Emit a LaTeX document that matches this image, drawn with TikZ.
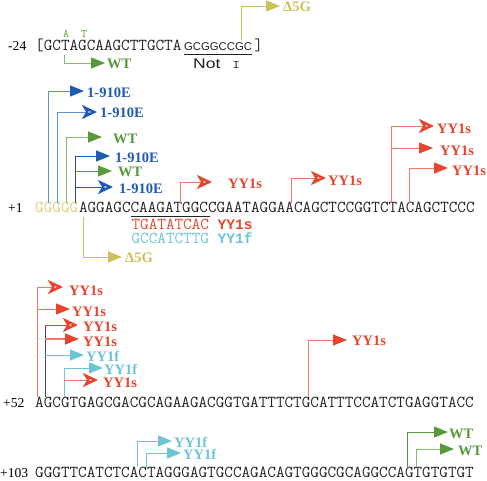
\documentclass[tikz,border=0pt]{standalone}
\usepackage{fontspec}
\usepackage{graphicx}
\usetikzlibrary{arrows.meta}
\newfontfamily\labfont{Liberation Serif}
\newfontfamily\sansf{Liberation Sans}
\newfontfamily\monob{Liberation Mono}
\definecolor{cRed}{HTML}{E8452F}
\definecolor{cRedL}{HTML}{F07A6A}
\definecolor{cBlue}{HTML}{1F5BB0}
\definecolor{cBlueL}{HTML}{5F90D2}
\definecolor{cGreen}{HTML}{58993A}
\definecolor{cGreenL}{HTML}{86BC6A}
\definecolor{cCyan}{HTML}{6CC5D2}
\definecolor{cOlive}{HTML}{C9C257}
\definecolor{cGold}{HTML}{D8D07E}
\definecolor{cDark}{HTML}{4A4A4A}
\definecolor{cSeq}{HTML}{222222}
\tikzset{
  seq/.style={anchor=base west, inner sep=0pt, font=\fontsize{16.7}{18}\selectfont\ttfamily, text=cSeq},
  rowlab/.style={anchor=base west, inner sep=0pt, font=\fontsize{13.6}{15}\selectfont\labfont, text=black},
  lab/.style={anchor=west, inner sep=0pt, font=\fontsize{14.5}{16}\selectfont\labfont\bfseries},
  ln/.style={line width=1pt, draw=#1},
  tipF/.style={-{Triangle[length=14pt,width=11pt,color=#1]}},
  tipO/.style={-{Stealth[color=#1,open,length=15pt,width=14pt,inset=4pt,line width=2.5pt]}},
}
\newcommand{\bmono}[1]{{\fontsize{14.6}{16}\selectfont\monob\bfseries #1}}
\begin{document}
\begin{tikzpicture}[x=1pt,y=-1pt]
\useasboundingbox (0,0) rectangle (487,480);

% ---------- row -24 ----------
\node[rowlab] (lm24) at (8,50) {-24};
\node[seq] (s24a) at (35,50) {[GCTAGCAAGCTTGCTA};
\node[anchor=base west, inner sep=0pt, font=\fontsize{11.3}{13}\selectfont\sansf, text=cSeq] (notseq) at (184,50) {GCGGCCGC};
\node[seq] (s24c) at (254.2,50) {]};
\draw[cSeq, line width=0.8pt] ([yshift=-4pt]notseq.base west) -- ([yshift=-4pt]notseq.base east);
\node[anchor=base west, inner sep=0pt, font=\fontsize{14}{16}\selectfont\sansf, text=cSeq] (notlab) at (193,68) {\scalebox{1.25}[1]{Not}};
\node[anchor=base west, inner sep=0pt, font=\fontsize{16}{17}\selectfont\ttfamily, text=cSeq] (notI) at (232,68) {\scalebox{1}[0.72]{I}};
\node[anchor=base, inner sep=0pt, font=\fontsize{11.5}{12}\selectfont\ttfamily, text=cGreen] (mA) at (66,37) {A};
\node[anchor=base, inner sep=0pt, font=\fontsize{11.5}{12}\selectfont\ttfamily, text=cGreen] (mT) at (84,37) {T};

\coordinate (b24) at (64,55); \coordinate (t24) at (105,63);
\draw[ln=cGreenL, tipF=cGreen] (b24) |- (t24);
\node[lab, text=cGreen] (l24) at (107,64) {WT};

\coordinate (b24d) at (241,40); \coordinate (t24d) at (280,6);
\draw[ln=cOlive, tipF=cOlive] (b24d) |- (t24d);
\node[lab, text=cOlive] (l24d) at (283,7) {Δ5G};

% ---------- row +1 ----------
\node[rowlab] (lp1) at (8,212) {+1};
\node[seq, text=cGold] (g5) at (35,212) {GGGGG};
\node[seq] (s1) at (78.84,212) {AGGAGCCAAGATGGCCGAATAGGAACAGCTCCGGTCTACAGCTCCC};
\draw[cSeq, line width=0.7pt] (131.4,216) -- (210.3,216);
\node[seq, text=cRed] (redsub) at (131.4,229.5) {TGATATCAC \bmono{YY1s}};
\node[seq, text=cCyan] (cyansub) at (131.4,243.5) {GCCATCTTG \bmono{YY1f}};

\coordinate (b1d) at (83,217); \coordinate (t1d) at (122,257);
\draw[ln=cOlive, tipF=cOlive] (b1d) |- (t1d);
\node[lab, text=cOlive] (l1d) at (125,258) {Δ5G};

% left group
\coordinate (bA1) at (48,203); \coordinate (tA1) at (84,91);
\draw[ln=cBlueL, tipF=cBlue] (bA1) |- (tA1);
\node[lab, text=cBlue] (lA1) at (87,93) {1-910E};
\coordinate (bA2) at (57,203); \coordinate (tA2) at (97,112);
\draw[ln=cBlueL, tipO=cBlue] (bA2) |- (tA2);
\node[lab, text=cBlue] (lA2) at (100,113) {1-910E};
\coordinate (bA3) at (66,203); \coordinate (tA3) at (102,137);
\draw[ln=cGreenL, tipF=cGreen] (bA3) |- (tA3);
\node[lab, text=cGreen] (lA3) at (113,139) {WT};
\coordinate (bB) at (75,203); \coordinate (jB1) at (75,156);
\coordinate (jB2) at (75,171); \coordinate (jB3) at (75,187);
\draw[ln=cDark] (bB) -- (jB1);
\coordinate (tB1) at (110,156); \coordinate (tB2) at (112,171); \coordinate (tB3) at (113,187);
\draw[ln=cBlue, tipF=cBlue] (jB1) -- (tB1);
\draw[ln=cGreen, tipF=cGreen] (jB2) -- (tB2);
\draw[ln=cBlue, tipO=cBlue] (jB3) -- (tB3);
\node[lab, text=cBlue] (lB1) at (115,158) {1-910E};
\node[lab, text=cGreen] (lB2) at (118,172) {WT};
\node[lab, text=cBlue] (lB3) at (119,189) {1-910E};

% red group row +1
\coordinate (bR1) at (180,203); \coordinate (tR1) at (212,182);
\draw[ln=cRedL, tipO=cRed] (bR1) |- (tR1);
\node[lab, text=cRed] (lR1) at (228,184) {YY1s};
\coordinate (bR2) at (291,203); \coordinate (tR2) at (326,178);
\draw[ln=cRedL, tipO=cRed] (bR2) |- (tR2);
\node[lab, text=cRed] (lR2) at (328,181) {YY1s};
\coordinate (bR3) at (391,203); \coordinate (tR3) at (434,126);
\draw[ln=cRedL, tipO=cRed] (bR3) |- (tR3);
\node[lab, text=cRed] (lR3) at (437,129) {YY1s};
\coordinate (jR4) at (391,148); \coordinate (tR4) at (433,148);
\draw[ln=cRedL, tipF=cRed] (jR4) -- (tR4);
\node[lab, text=cRed] (lR4) at (440,151) {YY1s};
\coordinate (bR5) at (409,203); \coordinate (tR5) at (448,168);
\draw[ln=cRedL, tipF=cRed] (bR5) |- (tR5);
\node[lab, text=cRed] (lR5) at (452,171) {YY1s};

% ---------- row +52 ----------
\node[rowlab] (lp52) at (3,407) {+52};
\node[seq] (s52) at (35,407) {AGCGTGAGCGACGCAGAAGACGGTGATTTCTGCATTTCCATCTGAGGTACC};

\coordinate (bC) at (37,397); \coordinate (jC1) at (37,287); \coordinate (jC2) at (37,309);
\coordinate (tC1) at (63,287); \coordinate (tC2) at (70,309);
\draw[ln=cRedL, tipO=cRed] (bC) |- (tC1);
\draw[ln=cRedL, tipF=cRed] (jC2) -- (tC2);
\node[lab, text=cRed] (lC1) at (69,291) {YY1s};
\node[lab, text=cRed] (lC2) at (72,312) {YY1s};

\coordinate (bD) at (45,397); \coordinate (jD1) at (45,325);
\coordinate (jD2) at (45,339); \coordinate (jD3) at (45,355);
\draw[ln=cDark] (bD) -- (jD1);
\coordinate (tD1) at (78,325); \coordinate (tD2) at (79,339); \coordinate (tD3) at (84,355);
\draw[ln=cRed, tipO=cRed] (jD1) -- (tD1);
\draw[line width=1.6pt, draw=cRedL, tipF=cRed] (jD2) -- (tD2);
\draw[ln=cCyan, tipF=cCyan] (jD3) -- (tD3);
\node[lab, text=cRed] (lD1) at (83,327) {YY1s};
\node[lab, text=cRed] (lD2) at (83,342) {YY1s};
\node[lab, text=cCyan] (lD3) at (86,356) {YY1f};

\coordinate (bE) at (64,397); \coordinate (tE1) at (103,368);
\coordinate (jE2) at (64,380); \coordinate (tE2) at (98,380);
\draw[ln=cCyan, tipF=cCyan] (bE) |- (tE1);
\draw[ln=cRedL, tipO=cRed] (jE2) -- (tE2);
\node[lab, text=cCyan] (lE1) at (104,369) {YY1f};
\node[lab, text=cRed] (lE2) at (103,383) {YY1s};

\coordinate (bF) at (308,397); \coordinate (tF) at (347,340);
\draw[ln=cRedL, tipF=cRed] (bF) |- (tF);
\node[lab, text=cRed] (lF) at (352,341) {YY1s};

% ---------- row +103 ----------
\node[rowlab] (lp103) at (0,477) {+103};
\node[seq] (s103) at (35,477) {GGGTTCATCTCACTAGGGAGTGCCAGACAGTGGGCGCAGGCCAGTGTGTGT};

\coordinate (bG1) at (137,467); \coordinate (tG1) at (172,441);
\draw[ln=cCyan, tipF=cCyan] (bG1) |- (tG1);
\node[lab, text=cCyan] (lG1) at (174,442) {YY1f};
\coordinate (bG2) at (146,467); \coordinate (tG2) at (181,453);
\draw[ln=cCyan, tipF=cCyan] (bG2) |- (tG2);
\node[lab, text=cCyan] (lG2) at (183,454) {YY1f};

\coordinate (bH1) at (407,467); \coordinate (tH1) at (448,432);
\draw[ln=cGreen, tipF=cGreen] (bH1) |- (tH1);
\node[lab, text=cGreen] (lH1) at (449,434) {WT};
\coordinate (bH2) at (416,467); \coordinate (tH2) at (454,449);
\draw[ln=cGreenL, tipF=cGreen] (bH2) |- (tH2);
\node[lab, text=cGreen] (lH2) at (458,451) {WT};
\end{tikzpicture}
\end{document}
